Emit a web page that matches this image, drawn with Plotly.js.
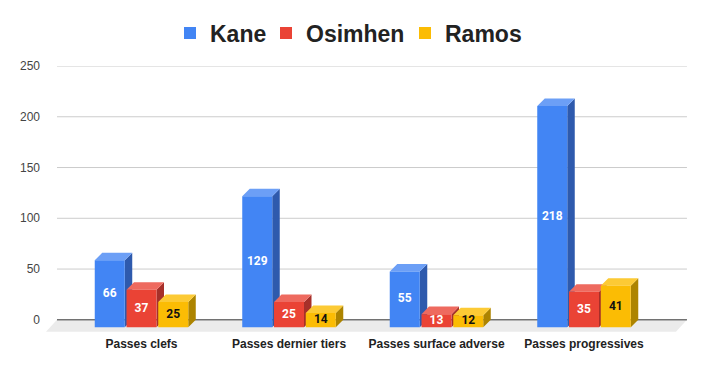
<!DOCTYPE html>
<html>
<head>
<meta charset="utf-8">
<script src="https://cdn.plot.ly/plotly-3.0.1.min.js"></script>
<style>html,body{margin:0;padding:0;background:#fff;}#chart{width:706px;height:371px;}</style>
</head>
<body>
<div id="chart"></div>
<script>
// ---- data ----
const categories = ['Passes clefs', 'Passes dernier tiers', 'Passes surface adverse', 'Passes progressives'];
const seriesNames = ['Kane', 'Osimhen', 'Ramos'];
const kane = [66, 129, 55, 218];
const osimhen = [37, 25, 13, 35];
const ramos = [25, 14, 12, 41];
const yTicks = [0, 50, 100, 150, 200, 250];

// ---- styles ----
const frontColors = ['#4285F4', '#EA4335', '#FBBC04'];
const topColors = ['#6c9ff6', '#ee6a5f', '#fcca35'];
const sideColors = ['#2e5aad', '#a6302a', '#ad8400'];
const labelColors = ['#ffffff', '#ffffff', '#111111'];
const legendLeftPx = [170, 266, 405];

// geometry (in axis units)
const barW = 0.2034, barStep = 0.2153, depthX = 0.0508, depthY = 7.4;
const floorDX = 0.0746, floorDY = 11.8;
const gridX0 = -0.573, gridX1 = 3.698;

const allSeries = [kane, osimhen, ramos];
const traces = [];
const labX = [], labY = [], labT = [], labC = [];

allSeries.forEach((vals, s) => {
  const side = {x: [], y: []}, top = {x: [], y: []}, front = {x: [], y: []};
  vals.forEach((v, c) => {
    const cx = c + (s - 1) * barStep;
    const x0 = cx - barW / 2, x1 = cx + barW / 2;
    const yb = -depthY, yt = v - depthY;
    side.x.push(x1, x1 + depthX, x1 + depthX, x1, x1, null);
    side.y.push(yb, 0, v, yt, yb, null);
    top.x.push(x0, x1, x1 + depthX, x0 + depthX, x0, null);
    top.y.push(yt, yt, v, v, yt, null);
    front.x.push(x0, x1, x1, x0, x0, null);
    front.y.push(yb, yb, yt, yt, yb, null);
    labX.push(cx); labY.push(v / 2 - depthY); labT.push(String(v)); labC.push(labelColors[s]);
  });
  const common = {type: 'scatter', mode: 'lines', fill: 'toself', line: {width: 0}, hoverinfo: 'skip', showlegend: false};
  traces.push(Object.assign({}, common, side, {fillcolor: sideColors[s]}));
  traces.push(Object.assign({}, common, top, {fillcolor: topColors[s]}));
  traces.push(Object.assign({}, common, front, {fillcolor: frontColors[s]}));
});

traces.push({
  type: 'scatter', mode: 'text', x: labX, y: labY, text: labT,
  textfont: {family: 'Roboto, Arial, sans-serif', size: 12, color: labC, weight: 'bold'},
  hoverinfo: 'skip', showlegend: false, cliponaxis: false
});

const legendFont = {family: 'Liberation Sans, Arial, sans-serif', size: 23, color: '#222222', weight: 'bold'};
const layout = {
  width: 706, height: 371,
  margin: {l: 46, r: 18, t: 66, b: 39},
  paper_bgcolor: '#ffffff', plot_bgcolor: 'rgba(0,0,0,0)',
  showlegend: true,
  xaxis: {
    range: [-0.6475, 3.705], tickmode: 'array', tickvals: [0, 1, 2, 3], ticktext: categories,
    showgrid: false, zeroline: false, showline: false, ticks: '', ticklabelstandoff: 3,
    tickfont: {family: 'Liberation Sans, Arial, sans-serif', size: 12, color: '#222222', weight: 'bold'},
    fixedrange: true
  },
  yaxis: {
    range: [-12, 250], tickmode: 'array', tickvals: yTicks, ticktext: yTicks.map(String),
    showgrid: false, zeroline: false, showline: false, ticks: '', ticklabelstandoff: 5,
    tickfont: {family: 'Liberation Sans, Arial, sans-serif', size: 12, color: '#444444'},
    fixedrange: true
  },
  shapes: []
};

// legend entries, one legend per series so each can be placed
seriesNames.forEach((n, s) => {
  const key = s === 0 ? 'legend' : 'legend' + (s + 1);
  traces.push({type: 'bar', x: [null], y: [null], name: n, marker: {color: frontColors[s]}, showlegend: true, legend: key});
  layout[key] = {
    orientation: 'h', x: legendLeftPx[s] / 706, xanchor: 'left', xref: 'container',
    y: 1 - 33 / 371, yanchor: 'middle', yref: 'container',
    font: legendFont, itemclick: false, bgcolor: 'rgba(0,0,0,0)'
  };
});

const shapes = layout.shapes;
shapes.push({
  type: 'path', xref: 'x', yref: 'y', layer: 'below', line: {width: 0}, fillcolor: '#ebebeb',
  path: 'M' + gridX0 + ',0 L' + gridX1 + ',0 L' + (gridX1 - floorDX) + ',' + (-floorDY) + ' L' + (gridX0 - floorDX) + ',' + (-floorDY) + ' Z'
});
yTicks.forEach(t => {
  shapes.push({
    type: 'line', xref: 'x', yref: 'y', layer: 'below', x0: gridX0, x1: gridX1, y0: t, y1: t,
    line: {color: t === 0 ? '#333333' : '#cccccc', width: 1}
  });
});

Plotly.newPlot('chart', traces, layout, {displayModeBar: false, staticPlot: true});
</script>
</body>
</html>
